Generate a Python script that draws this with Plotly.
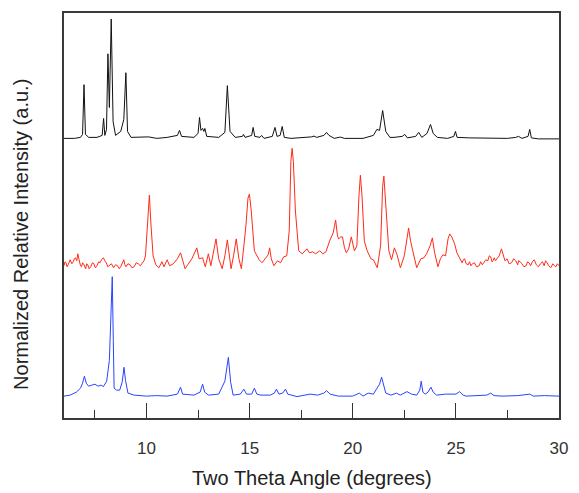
import plotly.graph_objects as go

# Two-theta positions (degrees) and normalized intensities (stacked, arbitrary units)
theta_black = [6.0, 6.5, 6.8, 6.9, 6.97, 7.04, 7.2, 7.6, 7.85, 7.92, 7.98, 8.06, 8.13, 8.2, 8.29, 8.38,
               8.5, 8.75, 8.9, 9.0, 9.08, 9.25, 10.1, 10.5, 11.0, 11.5, 11.6, 11.7, 12.3, 12.5, 12.57,
               12.64, 12.72, 12.78, 12.83, 12.92, 13.5, 13.8, 13.92, 14.05, 14.3, 14.65, 14.7, 14.78,
               15.1, 15.17, 15.25, 15.5, 15.58, 15.7, 16.1, 16.23, 16.33, 16.48, 16.58, 16.68, 17.0,
               17.5, 18.0, 18.12, 18.25, 18.6, 18.73, 18.85, 19.1, 19.4, 19.6, 20.5, 21.0, 21.17, 21.3,
               21.45, 21.6, 21.8, 22.0, 22.4, 22.52, 22.65, 23.05, 23.2, 23.35, 23.6, 23.77, 23.9,
               24.1, 24.6, 24.9, 24.98, 25.06, 25.65, 26.7, 27.5, 27.9, 28.04, 28.2, 28.5, 28.58,
               28.66, 29.0, 30.0]
int_black = [281, 281, 282, 285, 335, 285, 282, 282, 284, 301, 284, 290, 366, 312, 401, 298,
             284, 288, 300, 347, 288, 282, 282.5, 281, 282, 284, 289, 283, 282, 286, 302,
             289, 291, 288, 291, 283, 282, 287, 334, 288, 282, 283, 285, 282,
             284, 292, 283, 282, 284, 281, 283, 292, 283, 284, 293, 282, 281,
             281.5, 282.5, 283.3, 282, 284, 287, 284, 281, 282.3, 281, 281, 284, 290, 289,
             309, 288, 282, 282, 283, 285, 281.5, 283, 287, 282, 286, 295, 286,
             282, 281, 283, 288, 282, 281.5, 281.5, 281, 282, 283, 281, 283, 290,
             281.5, 280.5, 280.5]

theta_red = [6.0, 6.05, 6.1, 6.15, 6.2, 6.25, 6.3, 6.38, 6.45, 6.5, 6.55, 6.62, 6.67, 6.72, 6.75,
             6.8, 6.85, 6.9, 6.95, 7.0, 7.05, 7.1, 7.15, 7.22, 7.3, 7.38, 7.45, 7.52, 7.6, 7.68,
             7.75, 7.82, 7.91, 7.98, 8.05, 8.12, 8.2, 8.3, 8.4, 8.5, 8.6, 8.68, 8.75, 8.82, 8.9,
             8.95, 9.0, 9.1, 9.2, 9.3, 9.4, 9.5, 9.6, 9.7, 9.8, 9.88, 9.95,
             10.05, 10.14, 10.22, 10.32, 10.45, 10.6, 10.75, 10.85, 11.0, 11.12, 11.3, 11.5, 11.65,
             11.78, 11.87, 12.0, 12.2, 12.44, 12.55, 12.72, 12.85, 13.0, 13.12, 13.37, 13.5, 13.67,
             13.8, 13.92, 14.02, 14.1, 14.22, 14.35, 14.48, 14.6, 14.72, 14.82, 14.92, 14.99, 15.08,
             15.23, 15.46, 15.6, 15.75, 15.9, 15.97, 16.05, 16.18, 16.35, 16.5, 16.65, 16.8, 16.92,
             17.0, 17.06, 17.12, 17.22, 17.38, 17.55, 17.78, 17.9, 18.05, 18.2, 18.4, 18.55, 18.7,
             18.88, 19.05, 19.17, 19.26, 19.32, 19.42, 19.5, 19.6, 19.69, 19.8, 19.93, 20.08, 20.2,
             20.3, 20.37, 20.45, 20.56, 20.7, 20.88, 21.0, 21.19, 21.35, 21.45, 21.51, 21.6, 21.75,
             21.88, 22.02, 22.15, 22.31, 22.5, 22.62, 22.71, 22.8, 22.95, 23.1, 23.3, 23.45, 23.58,
             23.75, 23.86, 23.97, 24.13, 24.25, 24.37, 24.5, 24.62, 24.7, 24.8, 24.94, 25.05,
             25.18, 25.25, 25.3, 25.36, 25.42, 25.5, 25.6, 25.66, 25.73, 25.8, 25.9, 26.0, 26.13,
             26.2, 26.28, 26.35, 26.45, 26.55, 26.62, 26.69, 26.75, 26.8, 26.86, 26.92, 27.0, 27.1,
             27.21, 27.3, 27.38, 27.48, 27.58, 27.7, 27.8, 27.9, 28.0, 28.04, 28.12, 28.2, 28.3,
             28.4, 28.48, 28.55, 28.62, 28.71, 28.8, 28.9, 29.0, 29.1, 29.2, 29.28, 29.35, 29.42,
             29.5, 29.6, 29.7, 29.78, 29.85, 29.92, 30.0]
int_red = [153, 157, 156, 152, 154, 158, 159, 155, 157, 160, 161, 158, 165, 160, 156,
           153, 152, 156, 155, 151, 150, 155, 154, 150, 152, 156, 155, 151, 153, 157,
           156, 159, 161, 158, 156, 152, 153, 155, 151, 154, 153, 150, 152, 155, 159,
           154, 152, 155, 154, 151, 152, 156, 155, 153, 156, 158, 163,
           193, 224, 193, 163, 154, 151, 157, 152, 159, 153, 155, 160, 166,
           156, 150, 154, 160, 171, 160, 161, 152, 165, 153, 180, 160, 150,
           163, 179, 161, 150, 163, 180, 160, 150, 173, 193, 221, 225, 208,
           168, 159, 156, 160, 164, 171, 160, 153, 158, 156, 162, 163, 188,
           258, 271, 258, 208, 168, 165, 170, 166, 167, 165, 168, 165, 167,
           178, 186, 199, 183, 180, 182, 182, 171, 166, 170, 182, 168, 173,
           223, 244, 223, 178, 168, 160, 159, 151, 173, 233, 243, 213, 168,
           159, 171, 164, 151, 163, 178, 191, 178, 166, 151, 160, 161, 165,
           173, 181, 166, 152, 160, 164, 163, 180, 185, 182, 175, 166,
           160, 157, 156, 159, 160, 155, 154, 157, 153, 155, 156, 152, 153,
           157, 154, 156, 159, 158, 163, 162, 157, 158, 161, 158, 160, 163,
           170, 163, 158, 160, 155, 156, 160, 158, 154, 158, 157, 155, 152,
           153, 157, 156, 153, 157, 159, 154, 152, 155, 157, 153, 158, 156,
           153, 151, 155, 153, 152, 155, 153]

theta_blue = [6.0, 6.3, 6.6, 6.8, 6.9, 6.99, 7.08, 7.19, 7.35, 7.5, 7.65, 7.8, 7.91, 8.07, 8.2, 8.28,
              8.34, 8.39, 8.43, 8.55, 8.7, 8.82, 8.91, 8.98, 9.1, 9.4, 10.0, 10.5, 11.0, 11.5, 11.65,
              11.75, 12.3, 12.6, 12.72, 12.82, 13.0, 13.5, 13.8, 13.97, 14.08, 14.2, 14.55, 14.72,
              14.85, 15.1, 15.23, 15.35, 15.55, 16.0, 16.2, 16.3, 16.42, 16.6, 16.74, 16.85, 17.3,
              17.93, 18.3, 18.6, 18.73, 18.9, 19.3, 20.0, 20.32, 20.5, 20.75, 21.0, 21.19, 21.3, 21.4,
              21.5, 21.6, 21.85, 22.12, 22.3, 22.63, 22.85, 23.1, 23.25, 23.32, 23.4, 23.51, 23.65,
              23.79, 23.9, 24.06, 24.5, 25.0, 25.18, 25.35, 25.5, 26.21, 26.5, 26.69, 26.85, 27.24,
              28.0, 28.59, 28.75, 29.3, 30.0]
int_blue = [22, 23, 26, 30, 35, 42, 35, 32, 33, 34, 32, 33, 31.5, 37, 58, 98,
            142, 78, 30, 28, 28, 36, 51, 38, 25, 23, 22, 22.5, 22, 24, 31,
            24, 23, 26, 34, 26, 23, 24, 37, 61, 36, 23, 24, 29,
            24, 24, 30, 24, 23, 23, 25, 29, 24, 25, 29, 24, 21.5,
            24, 23, 25, 27.5, 24, 22, 22, 25, 22, 25, 24, 31, 34, 41,
            32, 25, 23, 25, 23, 26.5, 24, 23, 28, 37, 26, 24, 26,
            31, 26, 23, 24, 24, 26.5, 23, 22, 23, 23, 25, 22.5, 22,
            22.5, 24, 22, 22.5, 22]

major_ticks = [10, 15, 20, 25, 30]
minor_ticks = [7.5, 12.5, 17.5, 22.5, 27.5]

assert len(theta_black) == len(int_black)
assert len(theta_red) == len(int_red)
assert len(theta_blue) == len(int_blue)

fig = go.Figure()
for xs, ys, col in [(theta_black, int_black, "#111111"),
                    (theta_red, int_red, "#ff2a1a"),
                    (theta_blue, int_blue, "#2a44ff")]:
    fig.add_trace(go.Scatter(x=xs, y=ys, mode="lines",
                             line=dict(color=col, width=1), showlegend=False,
                             hoverinfo="skip"))

fig.update_layout(
    width=579, height=493,
    margin=dict(l=64, r=11, t=11, b=75),
    paper_bgcolor="white", plot_bgcolor="white",
    font=dict(family="Liberation Sans, Arial, sans-serif", color="#333333"),
    annotations=[
        dict(text="Two Theta Angle (degrees)", xref="paper", yref="paper",
             x=0.5, y=0, xanchor="center", yanchor="middle", yshift=-60,
             showarrow=False, font=dict(size=20, color="#222222")),
        dict(text="Normalized Relative Intensity (a.u.)", xref="paper", yref="paper",
             x=0, y=0.452, xanchor="center", yanchor="middle", xshift=-43,
             textangle=-90, showarrow=False, font=dict(size=20, color="#222222")),
    ],
)
fig.update_xaxes(
    range=[6, 30], showgrid=False, zeroline=False,
    showline=True, mirror=True, linecolor="#3a3a3a", linewidth=1.5,
    ticks="inside", ticklen=15, tickwidth=1, tickcolor="#333333",
    tickvals=major_ticks,
    minor=dict(ticks="inside", ticklen=8, tickwidth=1, tickcolor="#333333",
               tickvals=minor_ticks),
    tickfont=dict(size=17, color="#333333"), ticklabelstandoff=14,
)
fig.update_yaxes(
    range=[0, 407], showgrid=False, zeroline=False,
    showline=True, mirror=True, linecolor="#3a3a3a", linewidth=1.5,
    ticks="", showticklabels=False,
)

fig.write_html("out.html", config={"displayModeBar": False},
               post_script="document.body.style.margin='0';")
